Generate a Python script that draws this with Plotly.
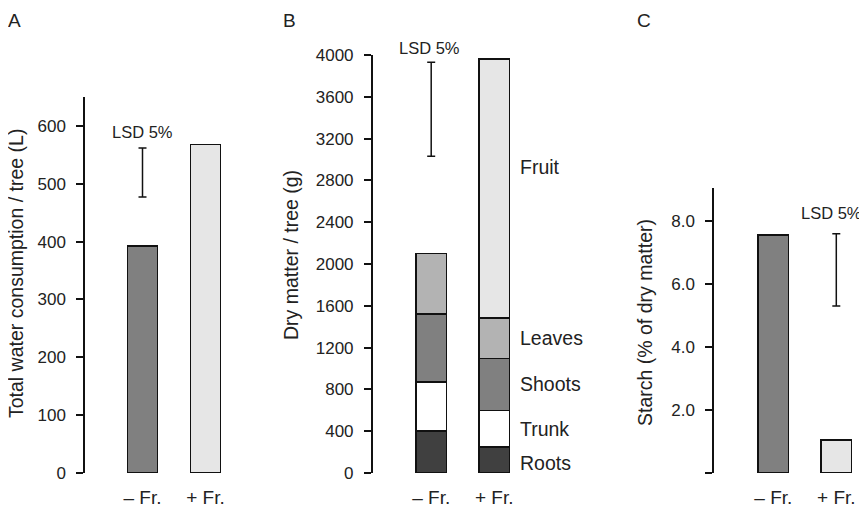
import plotly.graph_objects as go

W, H = 867, 507
OFF = 8  # page body margin of the viewer; reference pixels are shifted by it

# ---------------- data ----------------
categories = ["– Fr.", "+ Fr."]

# Panel A: total water consumption (L)
water = [392, 568]
water_lsd = [477, 562]          # LSD 5% bar low / high
water_ticks = [0, 100, 200, 300, 400, 500, 600]

# Panel B: dry matter per tree (g), stacked components
components = ["Roots", "Trunk", "Shoots", "Leaves", "Fruit"]
roots = [400, 250]
trunk = [470, 350]
shoots = [650, 495]
leaves = [580, 390]
fruit = [0, 2475]
dm_lsd = [3030, 3930]
dm_ticks = list(range(0, 4001, 400))

# Panel C: starch (% of dry matter)
starch = [7.55, 1.05]
starch_lsd = [5.3, 7.6]
starch_ticks = [0, 2, 4, 6, 8]
starch_ticktext = ["", "2.0", "4.0", "6.0", "8.0"]

titles = ["Total water consumption / tree (L)", "Dry matter / tree (g)", "Starch (% of dry matter)"]
panel_letters = ["A", "B", "C"]

# ---------------- style ----------------
FONT = "Liberation Sans, Arial, sans-serif"
TXT = "#222222"
C_DARK = "#808080"
C_LIGHT = "#e6e6e6"
comp_colors = ["#404040", "#ffffff", "#808080", "#b3b3b3", "#e6e6e6"]
STEP = 63.0  # px per category


def px_x(p):
    return (p - OFF) / W


def px_y(p):
    return 1 - (p - OFF) / H


def cat_range(axis_px, cat0_px, right_px):
    return [(axis_px - cat0_px) / STEP, (right_px - cat0_px) / STEP]


fig = go.Figure()
line = dict(color="#111111", width=1.5)


def lsd_trace(cat, lo_hi, xa, ya):
    return go.Scatter(x=[cat], y=[(lo_hi[0] + lo_hi[1]) / 2], mode="markers",
                      marker=dict(size=1, color="rgba(0,0,0,0)"),
                      error_y=dict(type="data", array=[(lo_hi[1] - lo_hi[0]) / 2],
                                   color="#111111", thickness=1.5, width=4),
                      xaxis=xa, yaxis=ya, showlegend=False, hoverinfo="skip")


# Panel A
fig.add_trace(go.Bar(x=categories, y=water, marker=dict(color=[C_DARK, C_LIGHT], line=line),
                     width=0.48, xaxis="x", yaxis="y", showlegend=False))
fig.add_trace(lsd_trace(categories[0], water_lsd, "x", "y"))

# Panel B
comp_vals = [roots, trunk, shoots, leaves, fruit]
for name, vals, col in zip(components, comp_vals, comp_colors):
    fig.add_trace(go.Bar(x=categories, y=[v if v > 0 else None for v in vals], name=name,
                         marker=dict(color=col, line=line), width=0.48,
                         xaxis="x2", yaxis="y2", showlegend=False))
fig.add_trace(lsd_trace(categories[0], dm_lsd, "x2", "y2"))

# Panel C
fig.add_trace(go.Bar(x=categories, y=starch, marker=dict(color=[C_DARK, C_LIGHT], line=line),
                     width=0.48, xaxis="x3", yaxis="y3", showlegend=False))
fig.add_trace(lsd_trace(categories[1], starch_lsd, "x3", "y3"))

xcommon = dict(type="category", showline=False, showgrid=False, zeroline=False,
               ticks="", ticklabelstandoff=11, automargin=False,
               tickfont=dict(size=19, color=TXT, family=FONT), fixedrange=True)
ycommon = dict(showline=True, linecolor="#111111", linewidth=1.5, showgrid=False, zeroline=False,
               ticks="outside", ticklen=7, tickwidth=1.5, tickcolor="#111111", automargin=False,
               tickfont=dict(size=17, color=TXT, family=FONT), ticklabelstandoff=7,
               fixedrange=True)

ybot = px_y(473)

fig.update_layout(
    width=W, height=H, autosize=False,
    margin=dict(l=0, r=0, t=0, b=0, pad=0, autoexpand=False),
    showlegend=False,
    paper_bgcolor="white", plot_bgcolor="white", barmode="stack",
    font=dict(family=FONT, color=TXT),
    xaxis=dict(xcommon, domain=[px_x(85), px_x(255)], range=cat_range(85, 142.5, 255), anchor="y"),
    yaxis=dict(ycommon, domain=[ybot, px_y(97)], range=[0, 650], tickvals=water_ticks, anchor="x"),
    xaxis2=dict(xcommon, domain=[px_x(372.7), px_x(575)], range=cat_range(372.7, 431.2, 575),
                anchor="y2"),
    yaxis2=dict(ycommon, domain=[ybot, px_y(55)], range=[0, 4000], tickvals=dm_ticks, anchor="x2"),
    xaxis3=dict(xcommon, domain=[px_x(714), px_x(866)], range=cat_range(714, 773.3, 866),
                anchor="y3"),
    yaxis3=dict(ycommon, domain=[ybot, px_y(188)], range=[0, 9.05], tickvals=starch_ticks,
                ticktext=starch_ticktext, anchor="x3"),
)

ann = []
# panel letters
for letter, xp in zip(panel_letters, [14, 289, 644]):
    ann.append(dict(text=letter, x=px_x(xp), y=1, xref="paper", yref="paper",
                    xanchor="center", yanchor="top",
                    showarrow=False, font=dict(size=19, color=TXT, family=FONT)))
# y-axis titles
for title, xp, yp in zip(titles, [16, 291, 645], [274, 255, 323]):
    ann.append(dict(text=title, x=px_x(xp), y=px_y(yp), xref="paper", yref="paper",
                    xanchor="center", yanchor="middle",
                    textangle=-90, showarrow=False, font=dict(size=19.5, color=TXT, family=FONT)))
# LSD labels
lsd_font = dict(size=16.5, color=TXT, family=FONT)
ann.append(dict(text="LSD 5%", x=categories[0], y=water_lsd[1], xref="x", yref="y", yshift=16,
                xshift=0, xanchor="center", yanchor="middle", showarrow=False, font=lsd_font))
ann.append(dict(text="LSD 5%", x=categories[0], y=dm_lsd[1], xref="x2", yref="y2", yshift=14,
                xshift=-2, xanchor="center", yanchor="middle", showarrow=False, font=lsd_font))
ann.append(dict(text="LSD 5%", x=categories[1], y=starch_lsd[1], xref="x3", yref="y3", yshift=21,
                xshift=-5, xanchor="center", yanchor="middle", showarrow=False, font=lsd_font))
# component labels next to +Fr. bar
base = 0
for name, vals in zip(components, comp_vals):
    v = vals[1]
    mid = base + v / 2
    shift = 22 if name == "Fruit" else (-3 if name == "Roots" else 0)
    ann.append(dict(text=name, x=categories[1], y=mid, xref="x2", yref="y2", xanchor="left",
                    yanchor="middle", xshift=24, yshift=shift, showarrow=False,
                    font=dict(size=19.5, color=TXT, family=FONT)))
    base += v

fig.update_layout(annotations=ann)
fig.write_html("out.html")
